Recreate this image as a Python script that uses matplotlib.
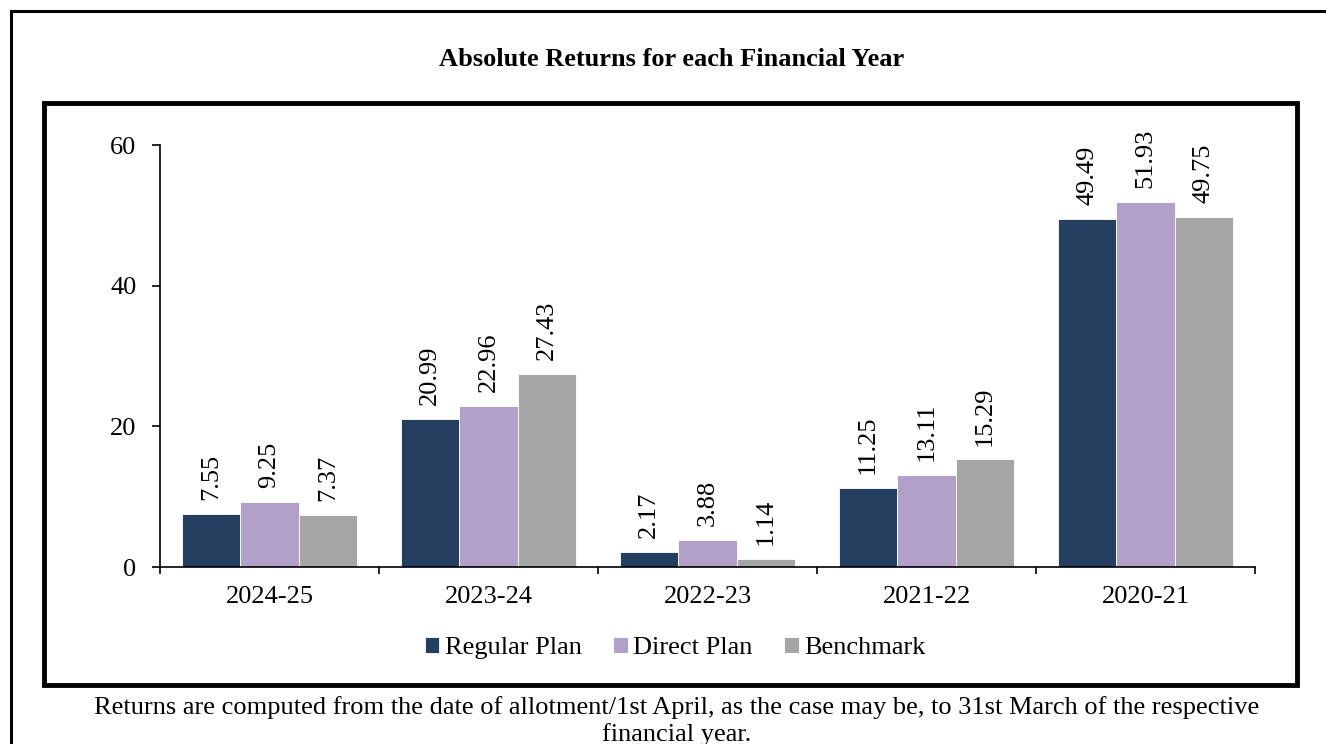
import numpy as np
import matplotlib.pyplot as plt
from matplotlib.patches import Rectangle

years = ["2024-25", "2023-24", "2022-23", "2021-22", "2020-21"]
regular = [7.55, 20.99, 2.17, 11.25, 49.49]
direct = [9.25, 22.96, 3.88, 13.11, 51.93]
benchmark = [7.37, 27.43, 1.14, 15.29, 49.75]
series_names = ["Regular Plan", "Direct Plan", "Benchmark"]
colors = ["#243F60", "#B1A0C7", "#A5A5A5"]

plt.rcParams['font.family'] = ['Liberation Serif', 'DejaVu Serif']

W, H = 1326, 744
fig = plt.figure(figsize=(W / 100, H / 100), dpi=100)

# outer frame (cut off at right/bottom)
fig.patches.append(Rectangle((11 / W, -0.1), 1.2, 1 - 11 / H + 0.1, transform=fig.transFigure,
                             fill=False, lw=2.2, ec='black'))
# inner thick frame
fig.patches.append(Rectangle((44 / W, 1 - 685 / H), (1297 - 44) / W, (685 - 103) / H,
                             transform=fig.transFigure, fill=False, lw=3.5, ec='black'))

ax = fig.add_axes([160 / W, 1 - 567 / H, (1255 - 160) / W, (567 - 145) / H])
ax.patch.set_alpha(0)

x = np.arange(len(years))
bw = 0.8 / 3
data = [regular, direct, benchmark]
for i, (vals, name, c) in enumerate(zip(data, series_names, colors)):
    pos = x - bw + i * bw
    ax.bar(pos, vals, width=bw, color=c, edgecolor='white', linewidth=0.6, label=name)
    for p, v in zip(pos, vals):
        ax.annotate(f"{v:.2f}", (p, v), xytext=(0, 10), textcoords='offset points',
                    rotation=90, ha='center', va='bottom', fontsize=19)

ax.set_xlim(-0.5, len(years) - 0.5)
ax.set_ylim(0, 60)
ax.set_yticks([0, 20, 40, 60])
ax.set_xticks(x)
ax.set_xticklabels(years)
ax.set_xticks(np.arange(-0.5, len(years)), minor=True)
ax.tick_params(axis='x', which='major', length=0, labelsize=19, pad=14)
ax.tick_params(axis='x', which='minor', length=5, width=1.2, direction='out')
ax.tick_params(axis='y', length=6, width=1.2, direction='out', labelsize=19, pad=11)
for s in ['top', 'right']:
    ax.spines[s].set_visible(False)
ax.spines['left'].set_linewidth(1.2)
ax.spines['bottom'].set_linewidth(1.2)

ax.legend(loc='center', bbox_to_anchor=(675 / W, 1 - 648 / H), bbox_transform=fig.transFigure,
          ncol=3, frameon=False, fontsize=19, handlelength=0.55, handleheight=0.55,
          handletextpad=0.2, columnspacing=1.2)

fig.text(672 / W, 1 - 60 / H, "Absolute Returns for each Financial Year", ha='center', va='center',
         fontsize=19, fontweight='bold')
fig.text(677 / W, 1 - 721 / H,
         "Returns are computed from the date of allotment/1st April, as the case may be, to 31st March of the respective\nfinancial year.",
         ha='center', va='center', fontsize=19, linespacing=1.25)

fig.savefig("out.png", dpi=100)
